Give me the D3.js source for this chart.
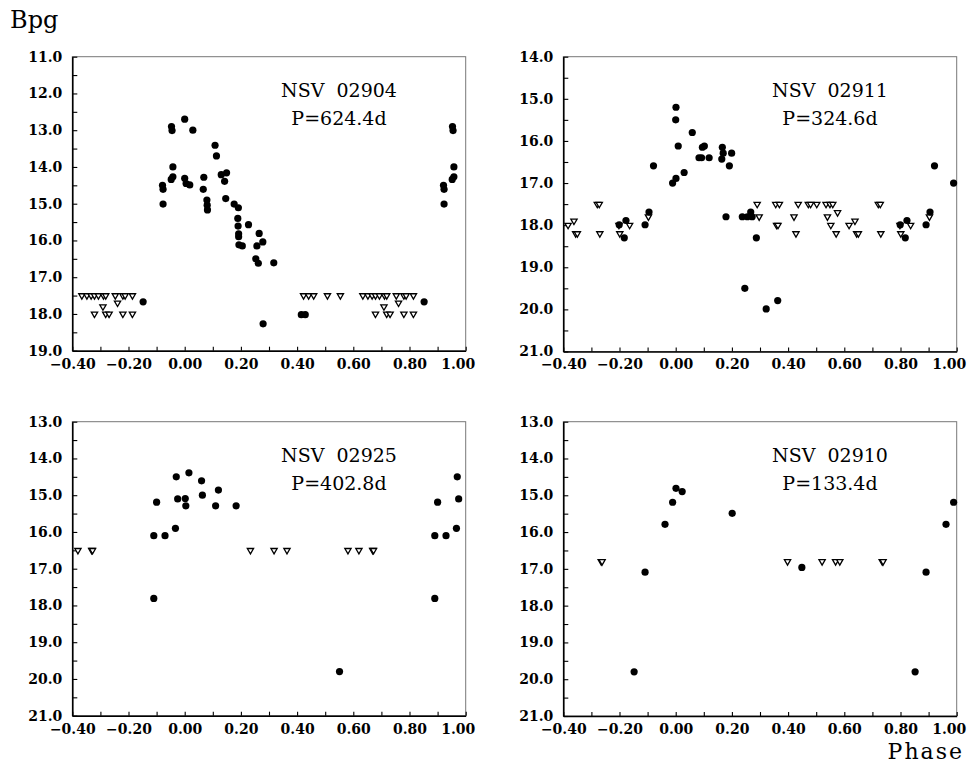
<!DOCTYPE html>
<html>
<head>
<meta charset="utf-8">
<script src="https://cdn.jsdelivr.net/npm/d3@7"></script>
<style>
  body { margin: 0; background: #fff; }
  text { font-family: "DejaVu Serif", serif; fill: #000; }
  .tick text { font-family: "DejaVu Serif", serif; font-weight: bold; font-size: 14px; }
  .star { white-space: pre; }
</style>
</head>
<body>
<svg id="chart"></svg>
<script>
// phases are stored in [0,1); points with phase >= 0.6 are repeated at phase-1
const starNames = ["NSV  02904", "NSV  02911", "NSV  02925", "NSV  02910"];
const periods = ["P=624.4d", "P=324.6d", "P=402.8d", "P=133.4d"];

const xTicks = [-0.4, -0.3, -0.2, -0.1, 0, 0.1, 0.2, 0.3, 0.4, 0.5, 0.6, 0.7, 0.8, 0.9, 1.0];
const xTickLabels = ["\u22120.40", "", "\u22120.20", "", "0.00", "", "0.20", "", "0.40", "", "0.60", "", "0.80", "", "1.00"];

const yDomains = [[11, 19], [14, 21], [13, 21], [13, 21]];

// NSV 02904 : [phase, Bpg]
const nsv02904Dots = [
  [0.000, 12.70], [0.029, 13.00], [0.000, 14.31], [0.005, 14.45], [0.018, 14.49],
  [0.068, 14.28], [0.066, 14.61], [0.079, 14.90], [0.080, 15.04], [0.081, 15.17],
  [0.108, 13.41], [0.113, 13.70], [0.130, 14.21], [0.149, 14.16], [0.142, 14.39],
  [0.146, 14.86], [0.176, 15.01], [0.191, 15.11], [0.189, 15.40], [0.190, 15.61],
  [0.192, 15.82], [0.192, 15.90], [0.193, 16.12], [0.205, 16.15], [0.227, 15.57],
  [0.265, 15.81], [0.278, 16.04], [0.257, 16.15], [0.253, 16.50], [0.262, 16.62],
  [0.317, 16.61], [0.279, 18.27], [0.415, 18.02], [0.429, 18.02], [0.852, 17.67],
  [0.921, 14.50], [0.923, 14.61], [0.923, 15.01], [0.953, 12.90], [0.955, 13.01],
  [0.958, 14.00], [0.958, 14.27], [0.952, 14.34]
];
// fainter-than limits (open triangles)
const nsv02904Limits = [
  [0.423, 17.5], [0.441, 17.5], [0.459, 17.5], [0.508, 17.5], [0.554, 17.5],
  [0.634, 17.5], [0.652, 17.5], [0.667, 17.5], [0.679, 17.5], [0.693, 17.5],
  [0.711, 17.5], [0.719, 17.5], [0.753, 17.5], [0.780, 17.5], [0.788, 17.5],
  [0.814, 17.5], [0.709, 17.8], [0.761, 17.7], [0.679, 18.0], [0.719, 18.0],
  [0.731, 18.0], [0.780, 18.0], [0.814, 18.0]
];

// NSV 02911
const nsv02911Dots = [
  [0.001, 15.20], [0.000, 15.50], [0.009, 16.12], [0.059, 15.80], [0.001, 16.89],
  [0.030, 16.75], [0.083, 16.40], [0.092, 16.40], [0.095, 16.15], [0.102, 16.12],
  [0.119, 16.40], [0.166, 16.15], [0.169, 16.29], [0.164, 16.43], [0.191, 16.59],
  [0.199, 16.29], [0.179, 17.80], [0.237, 17.80], [0.255, 17.80], [0.267, 17.69],
  [0.272, 17.80], [0.246, 19.50], [0.287, 18.30], [0.322, 19.99], [0.363, 19.79],
  [0.989, 17.00], [0.921, 16.59], [0.891, 17.99], [0.905, 17.69], [0.799, 17.99],
  [0.817, 18.30], [0.823, 17.89]
];
const nsv02911Limits = [
  [0.290, 17.5], [0.356, 17.5], [0.369, 17.5], [0.436, 17.5], [0.472, 17.5],
  [0.480, 17.5], [0.502, 17.5], [0.535, 17.5], [0.549, 17.5], [0.559, 17.5],
  [0.721, 17.5], [0.728, 17.5],
  [0.297, 17.8], [0.421, 17.8], [0.540, 17.8], [0.903, 17.8],
  [0.359, 18.0], [0.364, 18.0], [0.552, 18.0], [0.617, 18.0], [0.798, 18.0], [0.836, 18.0],
  [0.638, 17.9], [0.576, 17.7],
  [0.428, 18.2], [0.571, 18.2], [0.644, 18.2], [0.650, 18.2], [0.730, 18.2], [0.801, 18.2]
];

// NSV 02925
const nsv02925Dots = [
  [0.890, 16.10], [0.900, 15.19], [0.890, 17.81], [0.930, 16.10], [0.967, 15.90],
  [0.970, 14.50], [0.975, 15.10], [0.015, 14.39], [0.002, 15.09], [0.004, 15.29],
  [0.060, 14.61], [0.063, 15.00], [0.110, 15.29], [0.120, 14.86], [0.183, 15.29],
  [0.551, 19.80]
];
const nsv02925Limits = [
  [0.234, 16.5], [0.318, 16.5], [0.364, 16.5], [0.581, 16.5], [0.620, 16.5],
  [0.669, 16.5], [0.672, 16.5]
];

// NSV 02910
const nsv02910Dots = [
  [0.852, 19.80], [0.891, 17.09], [0.962, 15.79], [0.989, 15.19], [0.001, 14.81],
  [0.023, 14.90], [0.201, 15.49], [0.449, 16.96]
];
const nsv02910Limits = [
  [0.398, 16.8], [0.521, 16.8], [0.569, 16.8], [0.584, 16.8], [0.735, 16.8], [0.738, 16.8]
];

const dotSets = [nsv02904Dots, nsv02911Dots, nsv02925Dots, nsv02910Dots];
const limitSets = [nsv02904Limits, nsv02911Limits, nsv02925Limits, nsv02910Limits];

// panel frames in page pixels
const frames = [
  { x0: 72.3, x1: 465.7, y0: 56.7, y1: 350.7 },
  { x0: 563.3, x1: 956.7, y0: 56.7, y1: 351.5 },
  { x0: 72.3, x1: 465.7, y0: 421.7, y1: 715.7 },
  { x0: 563.3, x1: 956.7, y0: 421.7, y1: 716 }
];

const width = 971, height = 765;
const svg = d3.select("#chart").attr("width", width).attr("height", height);
svg.append("rect").attr("width", width).attr("height", height).attr("fill", "#fff");

function folded(data) {
  var out = [];
  data.forEach(function (d) {
    out.push(d);
    if (d[0] - 1 >= -0.4) out.push([d[0] - 1, d[1]]);
  });
  return out;
}

frames.forEach(function (f, i) {
  const xScale = d3.scaleLinear().domain([-0.4, 1.0]).range([f.x0, f.x1]);
  const yScale = d3.scaleLinear().domain(yDomains[i]).range([f.y0, f.y1]);

  const g = svg.append("g");

  // frame (top/right are thin grey)
  g.append("rect")
    .attr("x", f.x0).attr("y", f.y0)
    .attr("width", f.x1 - f.x0).attr("height", f.y1 - f.y0)
    .attr("fill", "none").attr("stroke", "#777").attr("stroke-width", 1);

  const yT = d3.range(yDomains[i][0], yDomains[i][1] + 0.01, 0.5);

  const yAxis = d3.axisLeft(yScale)
    .tickValues(yT)
    .tickFormat(function (d) { return Number.isInteger(d) ? d.toFixed(1) : ""; })
    .tickSizeInner(-5).tickSizeOuter(0).tickPadding(10);

  g.append("g")
    .attr("transform", `translate(${f.x0},0)`)
    .call(yAxis)
    .call(s => s.select(".domain").attr("stroke", "#000").attr("stroke-width", 1.6))
    .call(s => s.selectAll(".tick line").attr("stroke", "#000").attr("stroke-width", 1.1));

  const xAxis = d3.axisBottom(xScale)
    .tickValues(xTicks)
    .tickFormat(function (d, k) { return xTickLabels[k]; })
    .tickSizeInner(-4).tickSizeOuter(0).tickPadding(8);

  g.append("g")
    .attr("transform", `translate(0,${f.y1})`)
    .call(xAxis)
    .call(s => s.select(".domain").attr("stroke", "#000").attr("stroke-width", 1.6))
    .call(s => s.selectAll(".tick line").attr("stroke", "#000").attr("stroke-width", 1.1))
    // last label sits a little left of its tick, as in the original
    .call(s => s.selectAll(".tick text").filter((d, k) => k === xTicks.length - 1).attr("dx", -8));

  g.selectAll("text").attr("fill", "#000");

  // upper limits, open downward triangles
  const tri = d3.symbol().type(d3.symbolTriangle).size(17);
  g.selectAll(".lim")
    .data(folded(limitSets[i]))
    .join("path")
    .attr("class", "lim")
    .attr("d", tri)
    .attr("transform", d => `translate(${xScale(d[0])},${yScale(d[1])}) rotate(180)`)
    .attr("fill", "#fff")
    .attr("stroke", "#000")
    .attr("stroke-width", 1.3);

  g.selectAll(".dot")
    .data(folded(dotSets[i]))
    .join("circle")
    .attr("class", "dot")
    .attr("cx", d => xScale(d[0]))
    .attr("cy", d => yScale(d[1]))
    .attr("r", 3.6)
    .attr("fill", "#000");

  const cx = f.x0 + 266.7;
  g.append("text").attr("class", "star")
    .attr("x", cx).attr("y", f.y0 + 40)
    .attr("text-anchor", "middle")
    .style("font-size", "19px")
    .text(starNames[i]);
  g.append("text")
    .attr("x", cx).attr("y", f.y0 + 68.3)
    .attr("text-anchor", "middle")
    .style("font-size", "19px")
    .text(periods[i]);
});

svg.append("text")
  .attr("x", 10).attr("y", 28)
  .style("font-size", "24px")
  .text("Bpg");

svg.append("text")
  .attr("x", 964).attr("y", 759)
  .attr("text-anchor", "end")
  .style("font-size", "22px")
  .style("letter-spacing", "2px")
  .text("Phase");
</script>
</body>
</html>
